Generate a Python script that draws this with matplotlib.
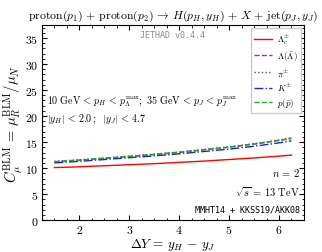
import matplotlib
matplotlib.use("Agg")
import matplotlib.pyplot as plt
from matplotlib.ticker import AutoMinorLocator

plt.rcParams["mathtext.fontset"] = "cm"
plt.rcParams["font.family"] = "serif"
plt.rcParams["font.serif"] = ["cmr10", "DejaVu Serif"]
plt.rcParams["axes.formatter.use_mathtext"] = True

dY = [1.5, 2.0, 2.5, 3.0, 3.5, 4.0, 4.5, 5.0, 5.5, 6.0, 6.25]
lam_c = [10.1, 10.25, 10.45, 10.65, 10.85, 11.1, 11.35, 11.65, 11.95, 12.3, 12.5]
lam = [11.2, 11.5, 11.85, 12.2, 12.6, 13.0, 13.5, 14.0, 14.6, 15.3, 15.7]
pion = [11.3, 11.6, 11.95, 12.3, 12.7, 13.1, 13.6, 14.1, 14.7, 15.4, 15.8]
kaon = [11.0, 11.3, 11.65, 12.0, 12.35, 12.75, 13.2, 13.65, 14.2, 14.85, 15.25]
prot = [11.25, 11.55, 11.9, 12.25, 12.65, 13.05, 13.55, 14.05, 14.65, 15.35, 15.75]

series = [
    (lam_c, r"$\Lambda_c^{\pm}$", "red", "-"),
    (lam, r"$\Lambda(\bar{\Lambda})$", "#9933aa", "--"),
    (pion, r"$\pi^{\pm}$", "#555555", ":"),
    (kaon, r"$K^{\pm}$", "#2222dd", "-."),
    (prot, r"$p(\bar{p})$", "#22aa22", "--"),
]

fig = plt.figure(figsize=(3.22, 2.53), dpi=100)
ax = fig.add_axes([0.13, 0.126, 0.814, 0.771])
for y, lab, c, ls in series:
    ax.plot(dY, y, color=c, ls=ls, lw=1.0, label=lab)

ax.set_xlim(1.25, 6.5)
ax.set_ylim(0, 37.5)
ax.set_xticks([2, 3, 4, 5, 6])
ax.set_yticks([0, 5, 10, 15, 20, 25, 30, 35])
ax.xaxis.set_minor_locator(AutoMinorLocator(4))
ax.yaxis.set_minor_locator(AutoMinorLocator(5))
ax.tick_params(which="both", direction="in", top=True, right=True, labelsize=8.5, pad=2.5)
ax.tick_params(axis="x", pad=2)
ax.tick_params(which="major", length=3.5)
ax.tick_params(which="minor", length=1.8)
for s in ax.spines.values():
    s.set_linewidth(0.8)

ax.set_xlabel(r"$\Delta Y\, =\, y_H\, -\, y_J$", fontsize=9.5)
ax.xaxis.set_label_coords(0.5, -0.12)
ax.xaxis.label.set_va("center")
ax.set_ylabel(r"$C_{\mu}^{\rm BLM}\, =\, \mu_R^{\rm BLM}/\mu_N$", fontsize=10.5, labelpad=0)
ax.set_title(r"${\rm proton}(p_1)\, +\, {\rm proton}(p_2)\, \rightarrow\, H(p_H, y_H)\, +\, X\, +\, {\rm jet}(p_J, y_J)$",
             fontsize=8.5, pad=5)

ax.text(0.5, 0.954, "JETHAD v0.4.4", transform=ax.transAxes, fontsize=6,
        family="monospace", color="#888888", ha="center", va="center")
ax.text(0.02, 0.61, r"$10\ {\rm GeV}\, <\, p_H\, <\, p_\Lambda^{\rm max};\ 35\ {\rm GeV}\, <\, p_J\, <\, p_J^{\rm max}$",
        transform=ax.transAxes, fontsize=7.2, ha="left", va="center")
ax.text(0.02, 0.52, r"$|y_H|\, <\, 2.0\,;\ \ |y_J|\, <\, 4.7$",
        transform=ax.transAxes, fontsize=7.2, ha="left", va="center")
ax.text(0.985, 0.246, r"$n\, =\, 2$", transform=ax.transAxes, fontsize=7.5, ha="right", va="center")
ax.text(0.985, 0.149, r"$\sqrt{s}\, =\, 13\ {\rm TeV}$", transform=ax.transAxes, fontsize=7.5,
        ha="right", va="center")
ax.text(0.985, 0.056, "MMHT14 + KKSS19/AKK08", transform=ax.transAxes, fontsize=6,
        family="monospace", ha="right", va="center")

ax.legend(loc="upper right", fontsize=6.5, handlelength=1.9, handletextpad=0.6,
          labelspacing=0.35, borderpad=0.4, borderaxespad=0.3, framealpha=1,
          fancybox=False, edgecolor="#cccccc")

fig.savefig("out.png", dpi=100)
